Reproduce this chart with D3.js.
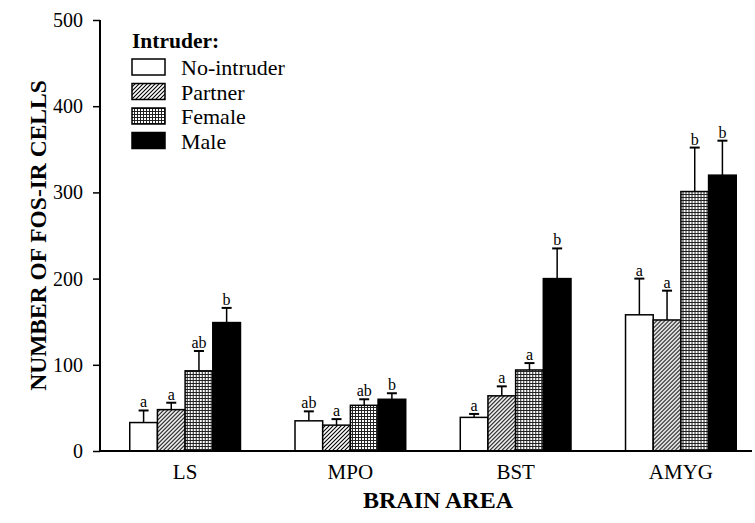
<!DOCTYPE html>
<html>
<head>
<meta charset="utf-8">
<script src="https://cdn.jsdelivr.net/npm/d3@7"></script>
<style>
  body { margin: 0; background: #fff; }
  text { font-family: "Liberation Serif", "Times New Roman", serif; }
</style>
</head>
<body>
<div id="chart"></div>
<script>
var areas = ['LS', 'MPO', 'BST', 'AMYG'];
var groups = ['No-intruder', 'Partner', 'Female', 'Male'];
var means = {
  'No-intruder': [33, 35, 39, 158],
  'Partner':     [48, 30, 64, 152],
  'Female':      [93, 53, 94, 301],
  'Male':        [149, 60, 200, 320]
};
var errTop = {
  'No-intruder': [47, 46, 43, 200],
  'Partner':     [56, 37, 75, 186],
  'Female':      [116, 60, 102, 352],
  'Male':        [166, 67, 235, 360]
};
var letters = {
  'No-intruder': ['a', 'ab', 'a', 'a'],
  'Partner':     ['a', 'a', 'a', 'a'],
  'Female':      ['ab', 'ab', 'a', 'b'],
  'Male':        ['b', 'b', 'b', 'b']
};
var yTicks = [0, 100, 200, 300, 400, 500];

var width = 755, height = 523;
var margin = {left: 100, top: 20, right: 3, bottom: 72};
var plot_w = width - margin.left - margin.right;
var plot_h = height - margin.top - margin.bottom;

var svg = d3.select('#chart').append('svg')
  .attr('width', width)
  .attr('height', height);

var defs = svg.append('defs');
var hatch = defs.append('pattern')
  .attr('id', 'hatch')
  .attr('patternUnits', 'userSpaceOnUse')
  .attr('width', 4).attr('height', 4);
hatch.append('rect').attr('width', 4).attr('height', 4).attr('fill', '#fff');
hatch.append('path')
  .attr('d', 'M-1,1 l2,-2 M0,4 l4,-4 M3,5 l2,-2')
  .attr('stroke', '#000').attr('stroke-width', 1.1);

var grid = defs.append('pattern')
  .attr('id', 'grid')
  .attr('patternUnits', 'userSpaceOnUse')
  .attr('width', 3).attr('height', 3);
grid.append('rect').attr('width', 3).attr('height', 3).attr('fill', '#fff');
grid.append('path')
  .attr('d', 'M0,0.5 H3 M0.5,0 V3')
  .attr('stroke', '#222').attr('stroke-width', 1);

var fills = {
  'No-intruder': '#fff',
  'Partner': 'url(#hatch)',
  'Female': 'url(#grid)',
  'Male': '#000'
};

var chart = svg.append('g')
  .attr('transform', 'translate(' + margin.left + ',' + margin.top + ')');

var x0 = d3.scaleBand()
  .domain(areas)
  .range([0, 666])
  .paddingInner(0.33)
  .paddingOuter(0.18);

var x1 = d3.scaleBand()
  .domain(groups)
  .range([0, x0.bandwidth()]);

var yScale = d3.scaleLinear()
  .domain([0, 500])
  .range([plot_h, 0]);

// y axis
var yAxis = chart.append('g')
  .call(d3.axisLeft(yScale).tickValues(yTicks).tickSize(7).tickPadding(10));
yAxis.select('.domain').attr('stroke-width', 2).attr('d', 'M0,' + plot_h + 'V0');
yAxis.selectAll('.tick line').attr('stroke-width', 1.5);
yAxis.selectAll('text')
  .style('font-family', '"Liberation Serif", serif')
  .style('font-size', '20px')
  .attr('fill', '#000');

// bars
var areaG = chart.selectAll('.area')
  .data(areas)
  .enter()
  .append('g')
  .attr('transform', function(d) { return 'translate(' + x0(d) + ',0)'; });

groups.forEach(function(g) {
  areaG.append('line')
    .attr('x1', function(d, i) { return x1(g) + x1.bandwidth() / 2; })
    .attr('x2', function(d, i) { return x1(g) + x1.bandwidth() / 2; })
    .attr('y1', function(d, i) { return yScale(means[g][i]); })
    .attr('y2', function(d, i) { return yScale(errTop[g][i]); })
    .attr('stroke', '#000').attr('stroke-width', 1.5);
  areaG.append('line')
    .attr('x1', function(d, i) { return x1(g) + x1.bandwidth() / 2 - 5; })
    .attr('x2', function(d, i) { return x1(g) + x1.bandwidth() / 2 + 5; })
    .attr('y1', function(d, i) { return yScale(errTop[g][i]); })
    .attr('y2', function(d, i) { return yScale(errTop[g][i]); })
    .attr('stroke', '#000').attr('stroke-width', 2);
  areaG.append('rect')
    .attr('x', x1(g))
    .attr('width', x1.bandwidth())
    .attr('y', function(d, i) { return yScale(means[g][i]); })
    .attr('height', function(d, i) { return plot_h - yScale(means[g][i]); })
    .attr('fill', fills[g])
    .attr('stroke', '#000')
    .attr('stroke-width', 1.5);
  areaG.append('text')
    .attr('x', x1(g) + x1.bandwidth() / 2)
    .attr('y', function(d, i) { return yScale(errTop[g][i]) - 3; })
    .attr('text-anchor', 'middle')
    .style('font-size', '16px')
    .text(function(d, i) { return letters[g][i]; });
});

// x axis
var xAxis = chart.append('g')
  .attr('transform', 'translate(0,' + plot_h + ')')
  .call(d3.axisBottom(x0).tickSize(0).tickPadding(13));
xAxis.select('.domain').attr('stroke-width', 2).attr('d', 'M0,0H' + plot_w);
xAxis.selectAll('text')
  .style('font-family', '"Liberation Serif", serif')
  .style('font-size', '21px')
  .attr('fill', '#000');

// axis titles
svg.append('text')
  .attr('transform', 'translate(46,' + (margin.top + plot_h / 2) + ') rotate(-90)')
  .attr('text-anchor', 'middle')
  .style('font-size', '23.5px')
  .style('font-weight', 'bold')
  .text('NUMBER OF FOS-IR CELLS');

svg.append('text')
  .attr('x', 438)
  .attr('y', 508)
  .attr('text-anchor', 'middle')
  .style('font-size', '24px')
  .style('font-weight', 'bold')
  .text('BRAIN AREA');

// legend
var legend = svg.append('g').attr('transform', 'translate(131,0)');
legend.append('text')
  .attr('x', 1).attr('y', 48)
  .style('font-size', '21.5px')
  .style('font-weight', 'bold')
  .text('Intruder:');
groups.forEach(function(g, i) {
  legend.append('rect')
    .attr('x', 1).attr('y', 59 + i * 24.5)
    .attr('width', 33).attr('height', 16)
    .attr('fill', fills[g])
    .attr('stroke', '#000').attr('stroke-width', 1.5);
  legend.append('text')
    .attr('x', 50).attr('y', 75 + i * 24.5)
    .style('font-size', '22px')
    .text(g);
});
</script>
</body>
</html>
